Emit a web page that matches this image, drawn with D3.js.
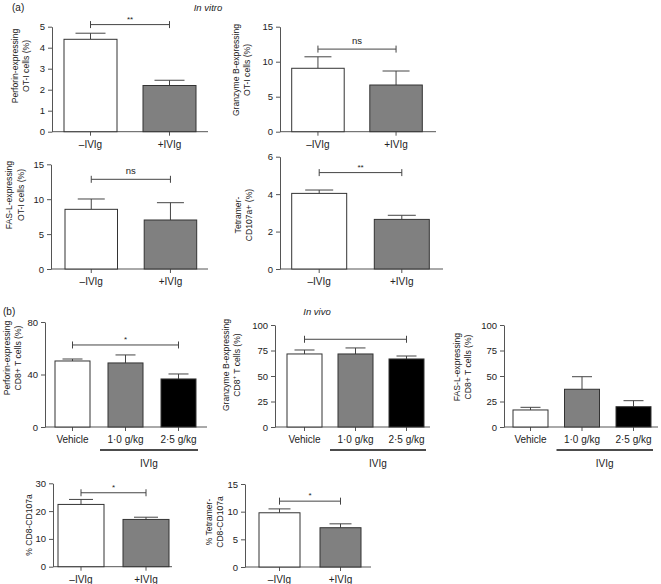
<!DOCTYPE html>
<html><head><meta charset="utf-8">
<script src="https://cdn.jsdelivr.net/npm/d3@7"></script>
<style>
body{margin:0;background:#fff}
svg{display:block}
text{font-family:"Liberation Sans",Arial,Helvetica,sans-serif;fill:#222}
</style>
</head><body><svg id="c" width="661" height="584"></svg>
<script>
// ---------- categories ----------
const catsA = ["\u2013IVIg", "+IVIg"];
const catsB = ["Vehicle", "1\u00b70 g/kg", "2\u00b75 g/kg"];

// ---------- (a) in vitro : means and SEM ----------
const perforinOT = [4.4, 2.2];
const perforinOTSem = [0.29, 0.25];
const granzymeOT = [9.06, 6.67];
const granzymeOTSem = [1.64, 2.0];
const faslOT = [8.55, 7.02];
const faslOTSem = [1.48, 2.48];
const tetCD107 = [4.04, 2.65];
const tetCD107Sem = [0.18, 0.22];

// ---------- (b) in vivo : means and SEM ----------
const perforinCD8 = [50.3, 48.8, 36.6];
const perforinCD8Sem = [1.5, 6.1, 3.8];
const granzymeCD8 = [71.6, 71.6, 66.7];
const granzymeCD8Sem = [3.9, 5.9, 2.9];
const faslCD8 = [16.7, 37.0, 19.9];
const faslCD8Sem = [2.6, 12.3, 5.9];
const cd8CD107 = [22.4, 17.0];
const cd8CD107Sem = [1.8, 0.8];
const tetCD8CD107 = [9.8, 7.1];
const tetCD8CD107Sem = [0.7, 0.7];

// ---------- y tick labels ----------
const ticks0to5 = [0, 1, 2, 3, 4, 5];
const ticks0to15 = [0, 5, 10, 15];
const ticks0to6 = [0, 2, 4, 6];
const ticks0to80 = [0, 40, 80];
const ticks0to100 = [0, 25, 50, 75, 100];
const ticks0to30 = [0, 10, 20, 30];

// ---------- significance brackets: [from, to, level, label] ----------
const sigA1 = [0, 1, 5.1, "**"];
const sigA2 = [0, 1, 11.8, "ns"];
const sigA3 = [0, 1, 12.85, "ns"];
const sigA4 = [0, 1, 5.15, "**"];
const sigB1 = [0, 2, 62.5, "*"];
const sigB2 = [0, 2, 86, ""];
const sigB4 = [0, 1, 26.6, "*"];
const sigB5 = [0, 1, 11.9, "*"];

const fills = ["#ffffff", "#808080", "#000000"];
const svg = d3.select("#c");

function panel(p) {
  const g = svg.append("g");
  const n = p.cats.length;
  const step = (p.barR - p.barL - p.bw) / (n - 1);
  const pi = 1 - p.bw / step;
  const x = d3.scaleBand().domain(p.cats).range([p.barL, p.barR]).paddingInner(pi).paddingOuter(0);
  const y = d3.scaleLinear().domain([0, p.ymax]).range([p.yBot, p.yTop]);
  const bw = x.bandwidth();

  // y axis
  const ya = g.append("g").attr("transform", `translate(${p.ax},0)`)
    .call(d3.axisLeft(y).tickValues(p.ticks).tickFormat(d3.format("d"))
      .tickSize(4).tickSizeOuter(0).tickPadding(3));
  ya.select(".domain").attr("stroke", "#555");
  ya.selectAll(".tick line").attr("stroke", "#555");
  ya.selectAll(".tick text").attr("font-size", 9.5).attr("fill", "#222")
    .style("font-family", '"Liberation Sans",Arial,sans-serif');

  // x axis
  const xa = g.append("g").attr("transform", `translate(0,${p.yBot})`)
    .call(d3.axisBottom(x).tickSize(4).tickSizeOuter(0).tickPadding(5));
  xa.select(".domain").remove();
  xa.selectAll(".tick line").attr("stroke", "#555");
  xa.selectAll(".tick text").attr("font-size", p.catFont || 10).attr("fill", "#222")
    .style("font-family", '"Liberation Sans",Arial,sans-serif');
  g.append("line").attr("x1", p.ax).attr("x2", p.axEnd).attr("y1", p.yBot).attr("y2", p.yBot)
    .attr("stroke", "#555");

  const data = p.cats.map((c, i) => ({c, v: p.vals[i], e: p.sem[i], i}));

  // error bars (upper only)
  const capW = p.capW;
  g.selectAll(".eb").data(data).join("line")
    .attr("x1", d => x(d.c) + bw / 2).attr("x2", d => x(d.c) + bw / 2)
    .attr("y1", d => y(d.v)).attr("y2", d => y(d.v + d.e)).attr("stroke", "#444");
  g.selectAll(".cap").data(data).join("line")
    .attr("x1", d => x(d.c) + bw / 2 - capW / 2).attr("x2", d => x(d.c) + bw / 2 + capW / 2)
    .attr("y1", d => y(d.v + d.e)).attr("y2", d => y(d.v + d.e)).attr("stroke", "#444");

  // bars
  g.selectAll(".bar").data(data).join("rect")
    .attr("x", d => x(d.c)).attr("y", d => y(d.v))
    .attr("width", bw).attr("height", d => p.yBot - y(d.v))
    .attr("fill", d => fills[d.i]).attr("stroke", "#333").attr("stroke-width", 1);

  // significance bracket
  if (p.sig) {
    const [a, b, lev, lab] = p.sig;
    const xa1 = x(p.cats[a]) + bw / 2, xb1 = x(p.cats[b]) + bw / 2, yy = y(lev);
    g.append("line").attr("x1", xa1).attr("x2", xb1).attr("y1", yy).attr("y2", yy).attr("stroke", "#444");
    [xa1, xb1].forEach(xx => g.append("line").attr("x1", xx).attr("x2", xx)
      .attr("y1", yy - 3.5).attr("y2", yy + 3.5).attr("stroke", "#444"));
    if (lab) g.append("text").attr("x", (xa1 + xb1) / 2).attr("y", yy - (lab === "ns" ? 5 : 3))
      .attr("text-anchor", "middle").attr("font-size", lab === "ns" ? 9.5 : 8).text(lab);
  }

  // IVIg group underline
  if (p.group) {
    const gx1 = x(p.cats[1]) - 8, gx2 = x(p.cats[2]) + bw + 2;
    g.append("line").attr("x1", gx1).attr("x2", gx2).attr("y1", p.yBot + 23).attr("y2", p.yBot + 23)
      .attr("stroke", "#111").attr("stroke-width", 1.3);
    g.append("text").attr("x", (gx1 + gx2) / 2).attr("y", p.yBot + 40)
      .attr("text-anchor", "middle").attr("font-size", 10).text("IVIg");
  }

  // y label
  p.ylab.forEach((t, k) => {
    const tx = g.append("text")
      .attr("transform", `translate(${p.ylx[k]},${p.yly}) rotate(-90)`)
      .attr("text-anchor", "middle").attr("dominant-baseline", "central")
      .attr("font-size", 8.6);
    if (Array.isArray(t)) {
      tx.append("tspan").text(t[0]);
      tx.append("tspan").attr("baseline-shift", "super").attr("font-size", 6).text(t[1]);
      tx.append("tspan").text(t[2]);
    } else tx.text(t);
  });
}

// ---------- (a) ----------
panel({cats: catsA, vals: perforinOT, sem: perforinOTSem, ax: 52, axEnd: 208, yTop: 26.7, yBot: 131.7,
  barL: 64, barR: 196, bw: 53, capW: 30, ymax: 5, ticks: ticks0to5, sig: sigA1,
  ylab: ["Perforin-expressing", "OT-I cells (%)"], ylx: [15, 26], yly: 66});
panel({cats: catsA, vals: granzymeOT, sem: granzymeOTSem, ax: 280, axEnd: 436, yTop: 26.7, yBot: 131.7,
  barL: 291.7, barR: 422.3, bw: 52.5, capW: 27, ymax: 15, ticks: ticks0to15, sig: sigA2,
  ylab: ["Granzyme B-expressing", "OT-I cells (%)"], ylx: [236, 247], yly: 70});
panel({cats: catsA, vals: faslOT, sem: faslOTSem, ax: 51, axEnd: 208, yTop: 164.3, yBot: 269,
  barL: 65, barR: 196.7, bw: 52.5, capW: 27, ymax: 15, ticks: ticks0to15, sig: sigA3,
  ylab: ["FAS-L-expressing", "OT-I cells (%)"], ylx: [9, 21], yly: 195});
panel({cats: catsA, vals: tetCD107, sem: tetCD107Sem, ax: 280, axEnd: 443, yTop: 156.7, yBot: 269,
  barL: 291.7, barR: 429.3, bw: 55, capW: 28, ymax: 6, ticks: ticks0to6, sig: sigA4,
  ylab: ["Tetramer-", "CD107a+ (%)"], ylx: [238, 249], yly: 215});

// ---------- (b) ----------
panel({cats: catsB, vals: perforinCD8, sem: perforinCD8Sem, ax: 45, axEnd: 207, yTop: 322, yBot: 427,
  barL: 55, barR: 196, bw: 35, capW: 20, ymax: 80, ticks: ticks0to80, sig: sigB1, group: true,
  ylab: ["Perforin-expressing", "CD8+ T cells (%)"], ylx: [7, 18], yly: 358});
panel({cats: catsB, vals: granzymeCD8, sem: granzymeCD8Sem, ax: 275, axEnd: 430, yTop: 325, yBot: 427,
  barL: 287, barR: 424, bw: 35, capW: 20, ymax: 100, ticks: ticks0to100, sig: sigB2, group: true,
  ylab: ["Granzyme B-expressing", ["CD8", "+", " T cells (%)"]], ylx: [226, 237], yly: 365});
panel({cats: catsB, vals: faslCD8, sem: faslCD8Sem, ax: 504, axEnd: 658, yTop: 325, yBot: 427,
  barL: 513, barR: 651, bw: 35, capW: 20, ymax: 100, ticks: ticks0to100, group: true,
  ylab: ["FAS-L-expressing", "CD8+ T cells (%)"], ylx: [457, 468], yly: 367});
panel({cats: catsA, vals: cd8CD107, sem: cd8CD107Sem, ax: 53, axEnd: 172, yTop: 483.3, yBot: 566.7,
  barL: 58, barR: 169, bw: 46, capW: 24, ymax: 30, ticks: ticks0to30, sig: sigB4,
  ylab: ["% CD8-CD107a"], ylx: [29], yly: 525});
panel({cats: catsA, vals: tetCD8CD107, sem: tetCD8CD107Sem, ax: 245, axEnd: 371, yTop: 484, yBot: 567,
  barL: 259, barR: 361, bw: 41, capW: 22, ymax: 15, ticks: ticks0to15, sig: sigB5,
  ylab: ["% Tetramer-", "CD8-CD107a"], ylx: [209, 220], yly: 522});

// panel letters and titles
svg.append("text").attr("x", 12).attr("y", 11).attr("font-size", 10).text("(a)");
svg.append("text").attr("x", 208).attr("y", 11).attr("text-anchor", "middle").attr("font-size", 9.5)
  .attr("font-style", "italic").text("In vitro");
svg.append("text").attr("x", 3).attr("y", 315).attr("font-size", 10).text("(b)");
svg.append("text").attr("x", 317).attr("y", 315).attr("text-anchor", "middle").attr("font-size", 9.5)
  .attr("font-style", "italic").text("In vivo");
</script>
</body></html>
